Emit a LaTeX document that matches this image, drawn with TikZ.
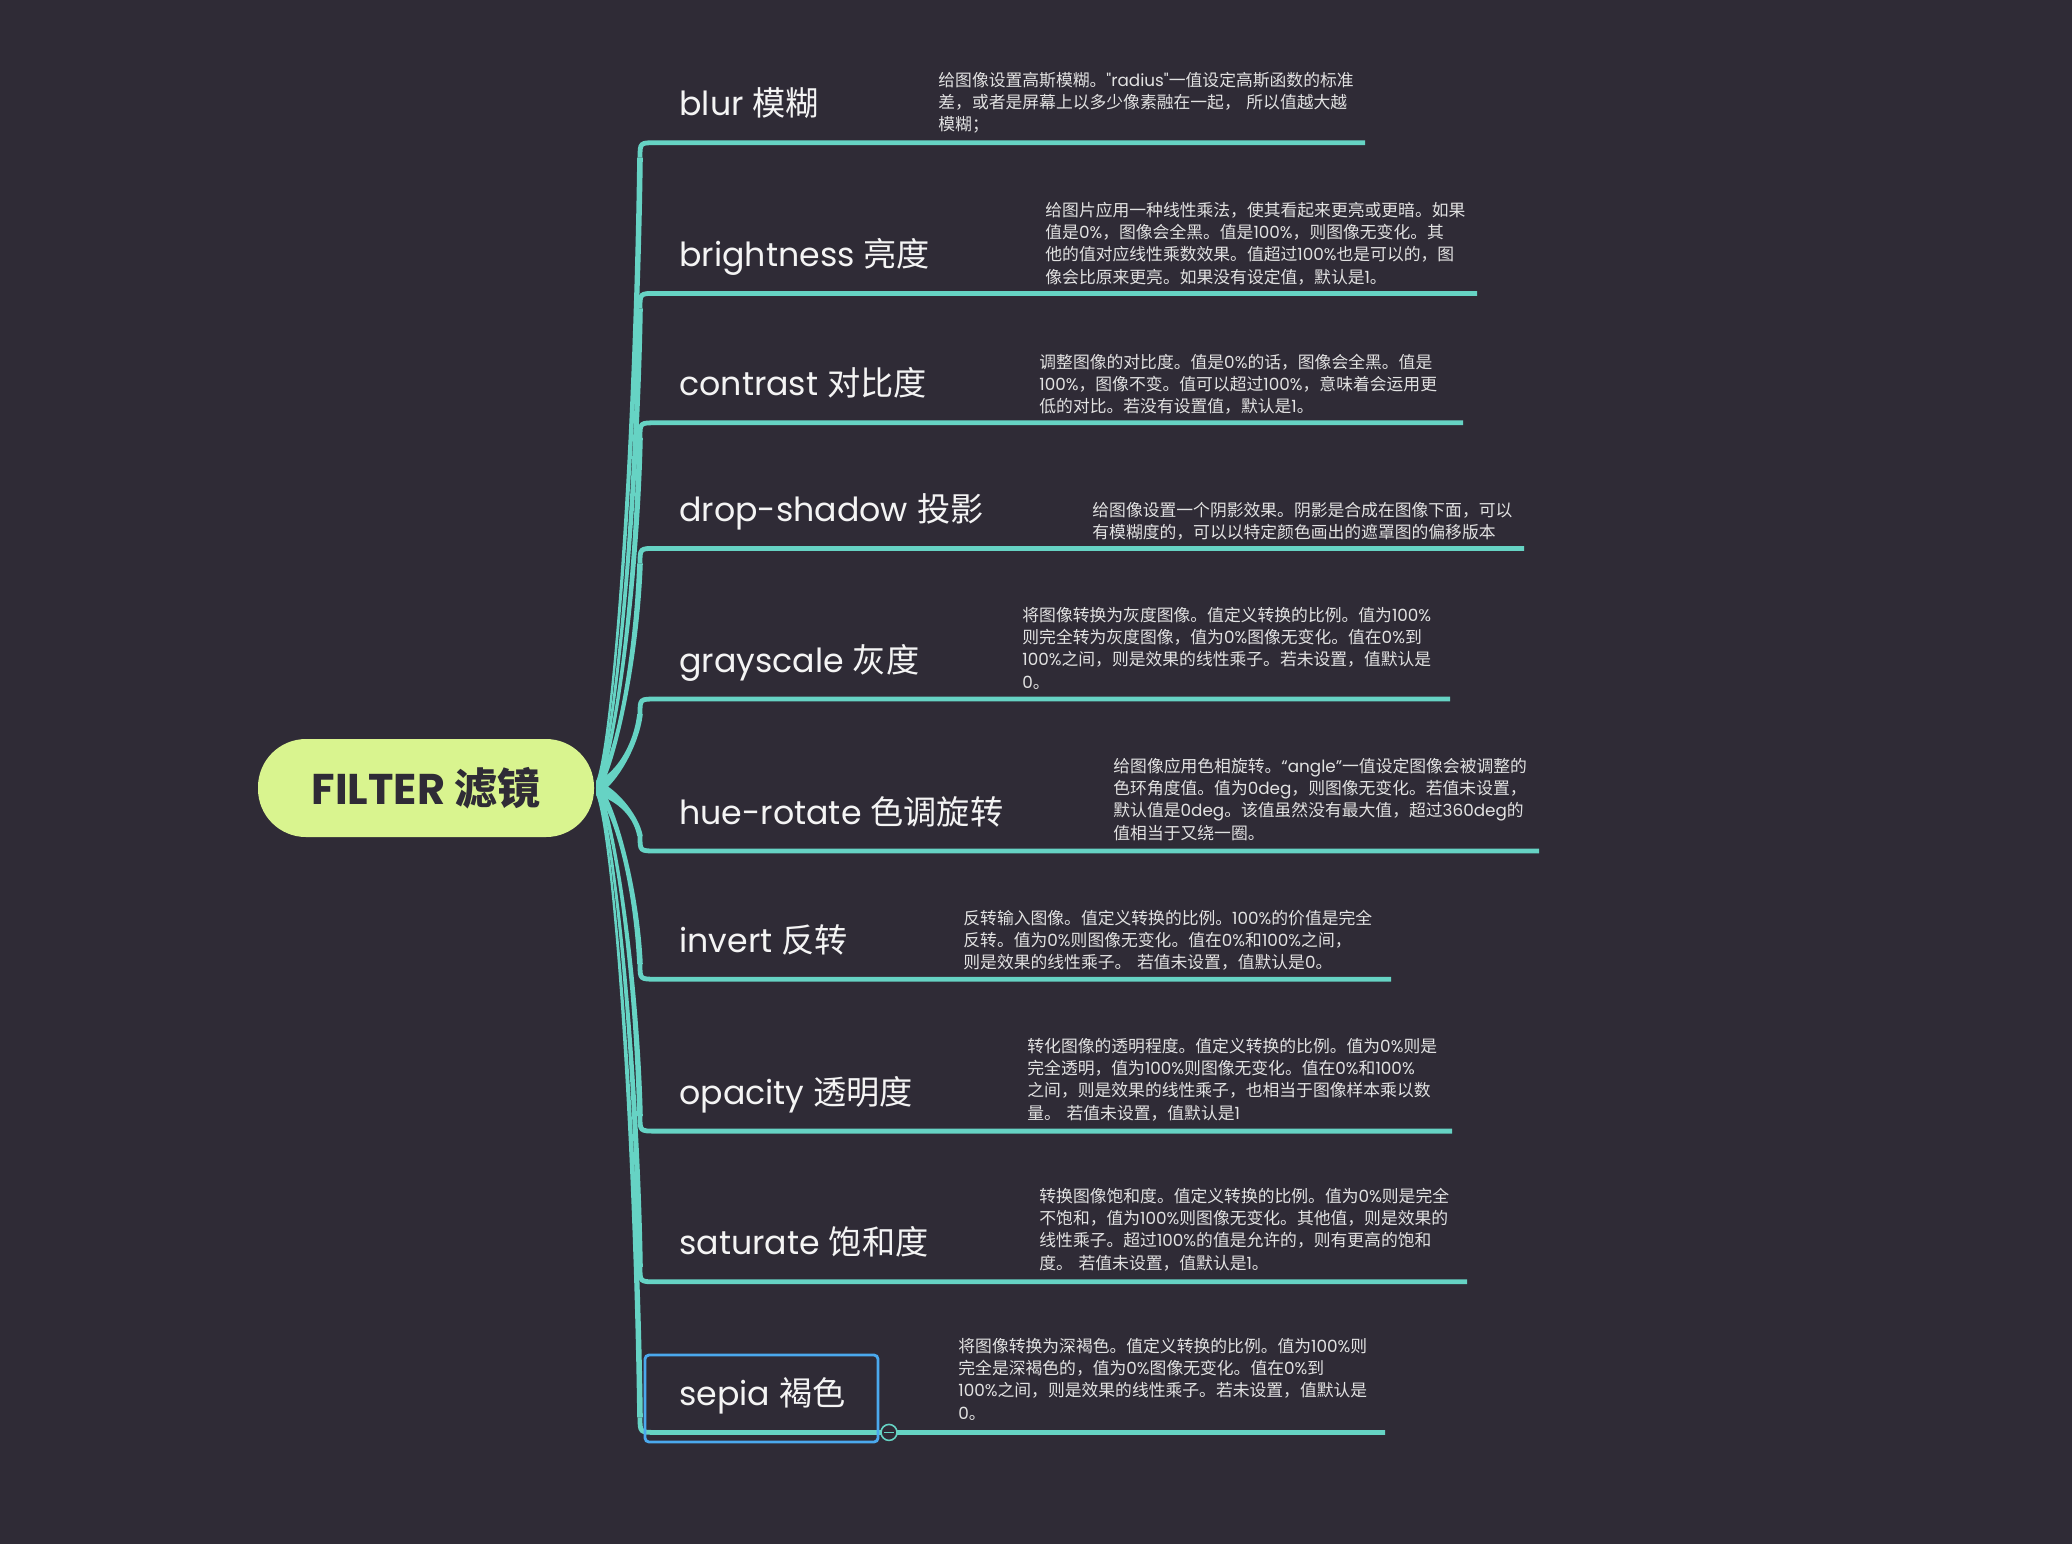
\documentclass[tikz,border=0pt]{standalone}
\usepackage{fontspec}
\usetikzlibrary{calc}
\setmainfont{Poppins}
\newfontfamily\latfont{Poppins}
\newfontfamily\cjkfont{Noto Sans CJK SC}

% Chinese characters switch to the CJK font
\XeTeXinterchartokenstate=1
\newXeTeXintercharclass\cjkclass
\newcount\cjkcode
\def\setcjkrange#1#2#3{\cjkcode=#1
  \loop\XeTeXcharclass\cjkcode=#3
  \ifnum\cjkcode<#2 \advance\cjkcode by 1 \repeat}
\setcjkrange{"0021}{"007E}{0}
\setcjkrange{"2018}{"201D}{0}
\setcjkrange{"3000}{"303F}{\cjkclass}
\setcjkrange{"4E00}{"9FFF}{\cjkclass}
\setcjkrange{"FF00}{"FFEF}{\cjkclass}
\XeTeXinterchartoks 0 \cjkclass = {\cjkfont}
\XeTeXinterchartoks 4095 \cjkclass = {\cjkfont}
\XeTeXinterchartoks \cjkclass 0 = {\latfont}
\XeTeXinterchartoks 4095 0 = {\latfont}

\definecolor{bgc}{HTML}{2F2B36}
\definecolor{branchc}{HTML}{66D3C4}
\definecolor{rootc}{HTML}{D9F48F}
\definecolor{labelc}{HTML}{F4F4F4}
\definecolor{notec}{HTML}{E2E2E2}
\definecolor{selc}{HTML}{4BA9EE}

\begin{document}
\begin{tikzpicture}[x=0.5pt,y=-0.5pt,
  topic/.style={text=labelc,font=\fontsize{16.6}{20}\selectfont,anchor=base west,inner sep=0pt},
  note/.style={text=notec,font=\fontsize{8.4}{11.2}\selectfont,anchor=base west,inner sep=0pt,text width=10cm,align=left},
  branch/.style={branchc,line width=2.4pt}]
\fill[bgc] (0,0) rectangle (2072,1544);

\node (root) [fill=rootc, text=bgc, rounded corners=24pt, minimum width=168pt, minimum height=49pt,
  inner sep=0pt, font=\fontsize{21.5}{26}\selectfont\bfseries] at (426,788) {FILTER 滤镜};
\coordinate (hub) at ($(root.east)+(2,0)$);

% branches: number / underline y / underline end / topic
\foreach \i/\y/\xe/\txt in {1/142.7/1365/{blur 模糊},2/293.4/1477/{brightness 亮度},
    3/422.8/1463/{contrast 对比度},4/548.4/1524/{drop-shadow 投影},5/699/1450/{grayscale 灰度},
    6/851/1539/{hue-rotate 色调旋转},7/979.2/1391/{invert 反转},8/1131.1/1452/{opacity 透明度},
    9/1281.8/1467/{saturate 饱和度},10/1432.4/1385/{sepia 褐色}} {
  \pgfmathsetmacro{\s}{sign(788-\y)}
  \pgfmathsetmacro{\yc}{\y+15*\s}
  \pgfmathsetmacro{\ya}{788+0.076*(\yc-788)}
  \pgfmathsetmacro{\yb}{788+0.535*(\yc-788)}
  \pgfmathsetmacro{\xl}{640-2.8*\s}
  \pgfmathsetmacro{\xr}{640+2.8*\s}
  \coordinate (u\i) at (\xe,\y);
  \node[topic] (t\i) at (679,\y-27) {\txt};
  \fill[branchc] ($(hub)+(0,-7)$) .. controls (613,\ya-7) and (\xl-4,\yb) .. (\xl,\yc)
    -- (\xr,\yc) .. controls (\xr-4,\yb) and (613,\ya+7) .. ($(hub)+(0,7)$) -- cycle;
  \draw[branch] (640,\yc) .. controls (640,\y) .. (656,\y) -- (u\i);
}

\node[note] (n1) at (938,86) {给图像设置高斯模糊。"radius"一值设定高斯函数的标准\\差，或者是屏幕上以多少像素融在一起， 所以值越大越\\模糊；};
\node[note] (n2) at (1045,216) {给图片应用一种线性乘法，使其看起来更亮或更暗。如果\\值是0\%，图像会全黑。值是100\%，则图像无变化。其\\他的值对应线性乘数效果。值超过100\%也是可以的，图\\像会比原来更亮。如果没有设定值，默认是1。};
\node[note] (n3) at (1039,368) {调整图像的对比度。值是0\%的话，图像会全黑。值是\\100\%，图像不变。值可以超过100\%，意味着会运用更\\低的对比。若没有设置值，默认是1。};
\node[note] (n4) at (1092,516) {给图像设置一个阴影效果。阴影是合成在图像下面，可以\\有模糊度的，可以以特定颜色画出的遮罩图的偏移版本};
\node[note] (n5) at (1022,621) {将图像转换为灰度图像。值定义转换的比例。值为100\%\\则完全转为灰度图像，值为0\%图像无变化。值在0\%到\\100\%之间，则是效果的线性乘子。若未设置，值默认是\\0。};
\node[note] (n6) at (1113,772) {给图像应用色相旋转。“angle”一值设定图像会被调整的\\色环角度值。值为0deg，则图像无变化。若值未设置，\\默认值是0deg。该值虽然没有最大值，超过360deg的\\值相当于又绕一圈。};
\node[note] (n7) at (963,924) {反转输入图像。值定义转换的比例。100\%的价值是完全\\反转。值为0\%则图像无变化。值在0\%和100\%之间，\\则是效果的线性乘子。 若值未设置，值默认是0。};
\node[note] (n8) at (1027,1052) {转化图像的透明程度。值定义转换的比例。值为0\%则是\\完全透明，值为100\%则图像无变化。值在0\%和100\%\\之间，则是效果的线性乘子，也相当于图像样本乘以数\\量。 若值未设置，值默认是1};
\node[note] (n9) at (1039,1202) {转换图像饱和度。值定义转换的比例。值为0\%则是完全\\不饱和，值为100\%则图像无变化。其他值，则是效果的\\线性乘子。超过100\%的值是允许的，则有更高的饱和\\度。 若值未设置，值默认是1。};
\node[note] (n10) at (958,1352) {将图像转换为深褐色。值定义转换的比例。值为100\%则\\完全是深褐色的，值为0\%图像无变化。值在0\%到\\100\%之间，则是效果的线性乘子。若未设置，值默认是\\0。};

% selected topic and fold button
\node (sel) [draw=selc, line width=1.4pt, rounded corners=2pt, minimum width=116.5pt,
  minimum height=43.5pt, inner sep=0pt] at (761.5,1398.5) {};
\node (fold) [circle, draw=branchc, fill=bgc, line width=0.8pt, minimum size=8pt, inner sep=0pt] at (889,1432.4) {};
\draw[branchc, line width=0.8pt] ($(fold.west)+(4,0)$) -- ($(fold.east)+(-4,0)$);
\end{tikzpicture}
\end{document}
